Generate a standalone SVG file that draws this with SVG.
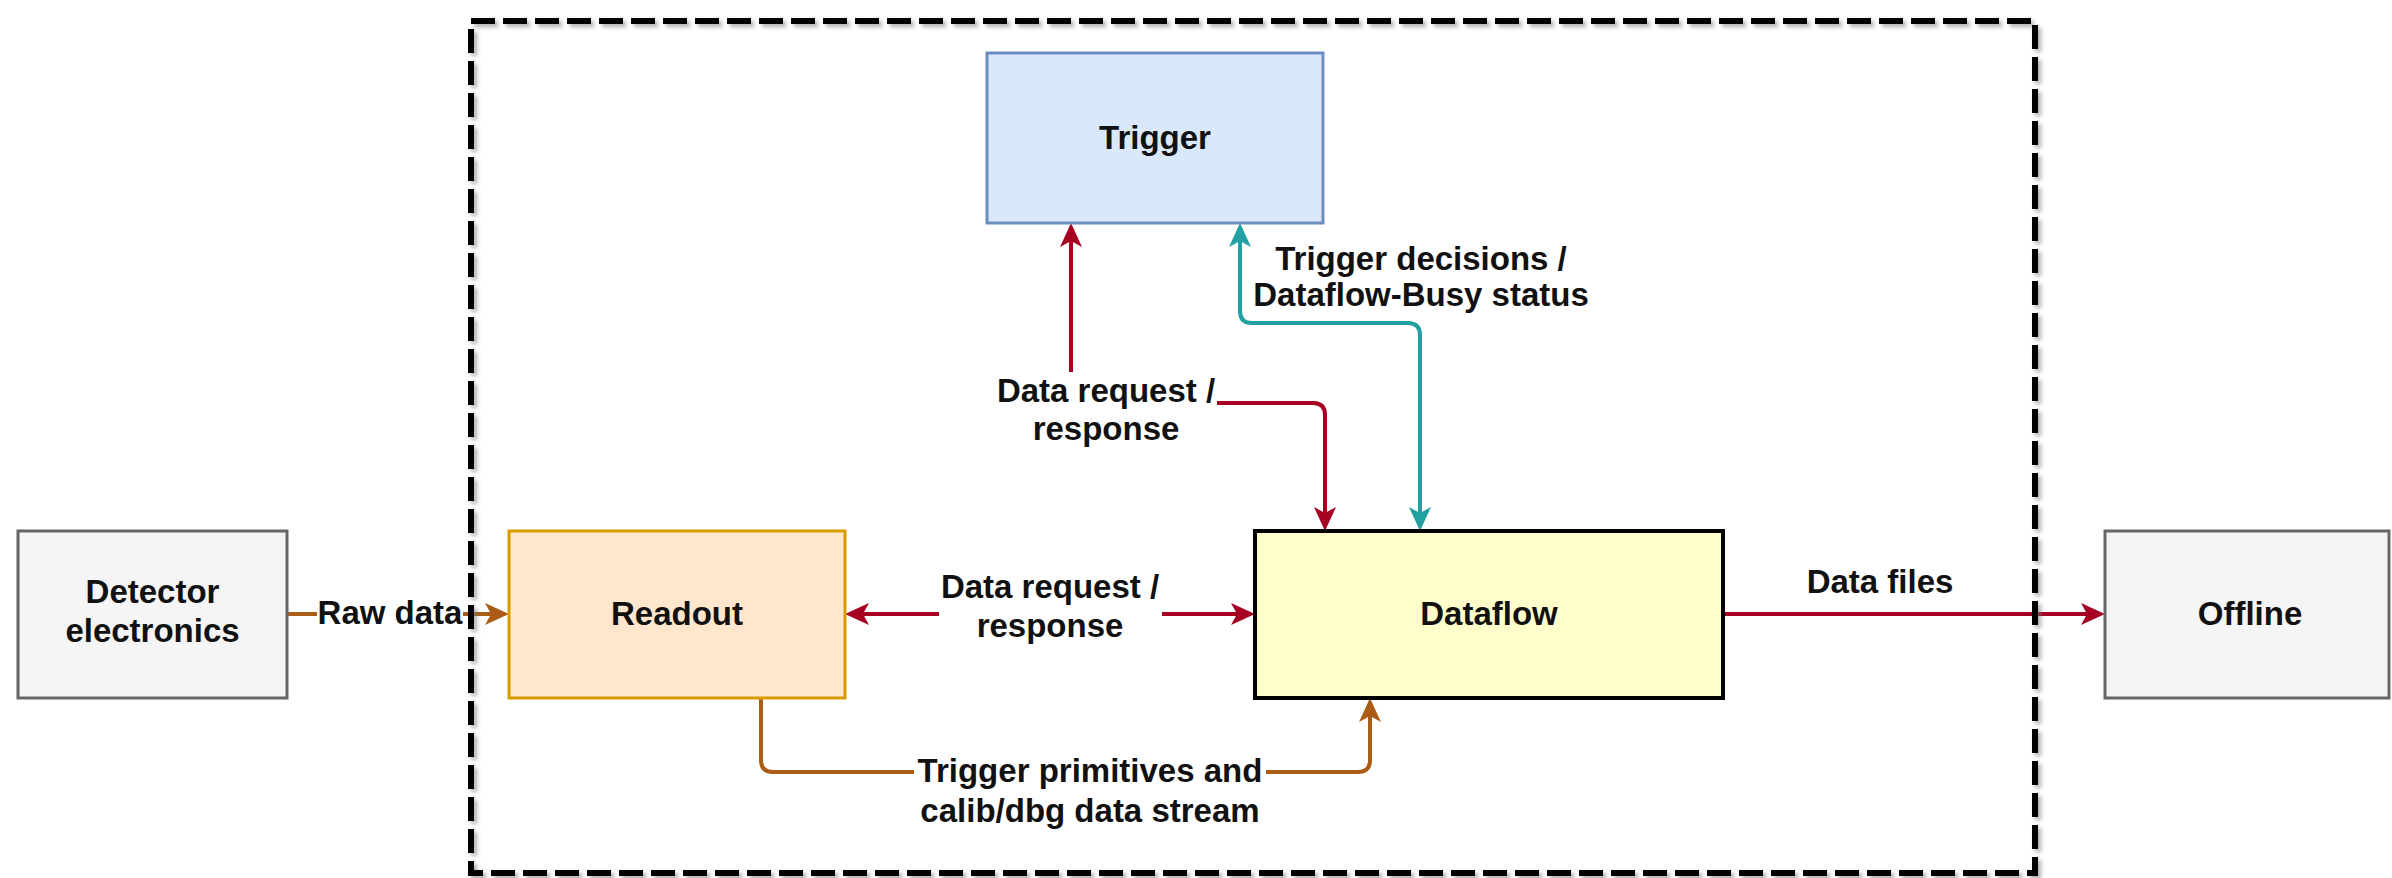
<svg xmlns="http://www.w3.org/2000/svg" width="2392" height="878" viewBox="0 0 2392 878">
<style>
.lbl{font-family:"Liberation Sans",Arial,sans-serif;font-weight:bold;font-size:33px;fill:#111;text-anchor:middle}
.box{stroke-width:3}
.conn{fill:none;stroke-width:4}
.red{stroke:#a50021}
.brown{stroke:#ab5c17}
.teal{stroke:#22a0a2}
.bg{fill:#ffffff}
</style>
<defs>
<marker id="ar-red" viewBox="0 0 24 22" markerWidth="24" markerHeight="22" refX="8" refY="11" orient="auto-start-reverse" markerUnits="userSpaceOnUse"><path d="M0,0 L24,11 L0,22 L6,11 Z" fill="#a50021"/></marker>
<marker id="ar-brown" viewBox="0 0 24 22" markerWidth="24" markerHeight="22" refX="8" refY="11" orient="auto-start-reverse" markerUnits="userSpaceOnUse"><path d="M0,0 L24,11 L0,22 L6,11 Z" fill="#ab5c17"/></marker>
<marker id="ar-teal" viewBox="0 0 24 22" markerWidth="24" markerHeight="22" refX="8" refY="11" orient="auto-start-reverse" markerUnits="userSpaceOnUse"><path d="M0,0 L24,11 L0,22 L6,11 Z" fill="#22a0a2"/></marker>
<filter id="blur" x="-5%" y="-5%" width="110%" height="110%"><feGaussianBlur stdDeviation="2"/></filter>
</defs>
<rect width="2392" height="878" fill="#ffffff"/>

<g id="connectors">
  <g id="edge-raw-data">
    <path class="conn brown" d="M287,614 H493" marker-end="url(#ar-brown)"/>
    <rect class="bg" x="317" y="592" width="146" height="40"/>
    <text class="lbl" x="390" y="624">Raw data</text>
  </g>
  <g id="edge-readout-dataflow">
    <path class="conn red" d="M861,614 H1239" marker-start="url(#ar-red)" marker-end="url(#ar-red)"/>
    <rect class="bg" x="939" y="572" width="223" height="80"/>
    <text class="lbl" x="1050" y="598">Data request /</text>
    <text class="lbl" x="1050" y="637">response</text>
  </g>
  <g id="edge-trigger-dataflow-request">
    <path class="conn red" d="M1071,239 V403 H1313 Q1325,403 1325,415 V515" marker-start="url(#ar-red)" marker-end="url(#ar-red)"/>
    <rect class="bg" x="995" y="372" width="222" height="80"/>
    <text class="lbl" x="1106" y="402">Data request /</text>
    <text class="lbl" x="1106" y="440">response</text>
  </g>
  <g id="edge-trigger-decisions">
    <path class="conn teal" d="M1240,239 V311 Q1240,323 1252,323 H1408 Q1420,323 1420,335 V515" marker-start="url(#ar-teal)" marker-end="url(#ar-teal)"/>
    <text class="lbl" x="1421" y="270">Trigger decisions /</text>
    <text class="lbl" x="1421" y="306">Dataflow-Busy status</text>
  </g>
  <g id="edge-trigger-primitives">
    <path class="conn brown" d="M761,699 V760 Q761,772 773,772 H1358 Q1370,772 1370,760 V714" marker-end="url(#ar-brown)"/>
    <rect class="bg" x="914" y="752" width="352" height="80"/>
    <text class="lbl" x="1090" y="782">Trigger primitives and</text>
    <text class="lbl" x="1090" y="822">calib/dbg data stream</text>
  </g>
  <g id="edge-data-files">
    <path class="conn red" d="M1723,614 H2089" marker-end="url(#ar-red)"/>
    <text class="lbl" x="1880" y="593">Data files</text>
  </g>
</g>

<g id="node-detector">
  <rect class="box" x="18" y="531" width="269" height="167" fill="#f5f5f5" stroke="#666666"/>
  <text class="lbl" x="152.5" y="603">Detector</text>
  <text class="lbl" x="152.5" y="642">electronics</text>
</g>
<g id="node-readout">
  <rect class="box" x="509" y="531" width="336" height="167" fill="#ffe6cc" stroke="#d79b00"/>
  <text class="lbl" x="677" y="625">Readout</text>
</g>
<g id="node-trigger">
  <rect class="box" x="987" y="53" width="336" height="170" fill="#dae8fc" stroke="#6c8ebf"/>
  <text class="lbl" x="1155" y="149">Trigger</text>
</g>
<g id="node-dataflow">
  <rect x="1255" y="531" width="468" height="167" fill="#ffffcc" stroke="#000000" stroke-width="4"/>
  <text class="lbl" x="1489" y="625">Dataflow</text>
</g>
<g id="node-offline">
  <rect class="box" x="2105" y="531" width="284" height="167" fill="#f5f5f5" stroke="#666666"/>
  <text class="lbl" x="2250" y="625">Offline</text>
</g>

<g id="boundary">
  <rect x="474" y="24" width="1564" height="852" fill="none" stroke="#777777" stroke-opacity="0.6" stroke-width="6" stroke-dasharray="24 8" filter="url(#blur)"/>
  <rect x="471" y="21" width="1564" height="852" fill="none" stroke="#000000" stroke-width="6" stroke-dasharray="24 8"/>
</g>
</svg>
